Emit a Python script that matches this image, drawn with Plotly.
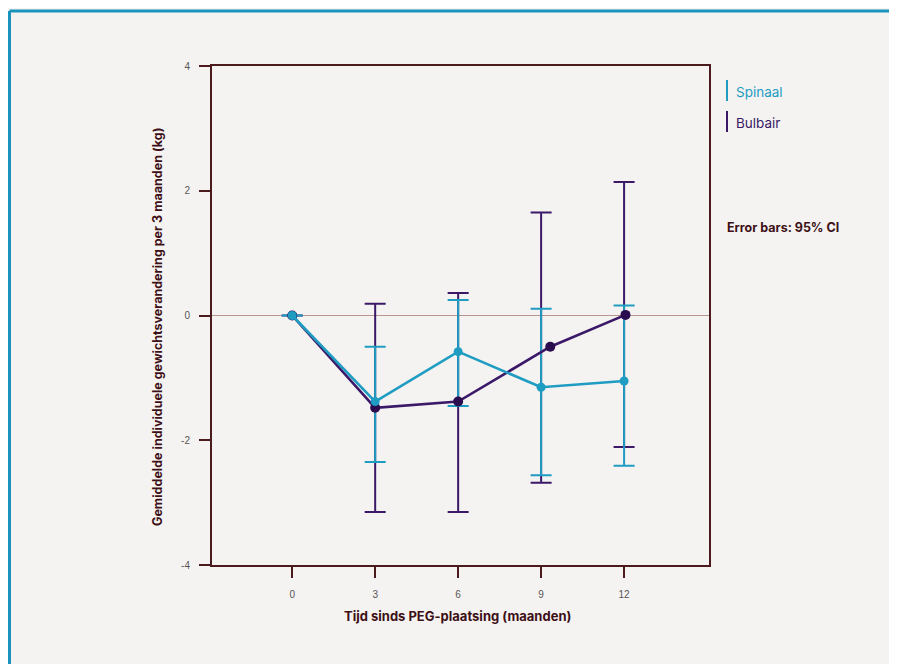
import plotly.graph_objects as go

# ---- data ----
months = [0, 3, 6, 9, 12]
x_ticks = [0, 3, 6, 9, 12]
y_ticks = [-4, -2, 0, 2, 4]

spinaal_x = [0, 3, 6, 9, 12]
spinaal_y = [0, -1.38, -0.58, -1.15, -1.05]
spinaal_hi = [0, -0.50, 0.25, 0.11, 0.16]
spinaal_lo = [0, -2.35, -1.45, -2.56, -2.41]

bulbair_x = [0, 3, 6, 9.33, 12.05]
bulbair_y = [0, -1.48, -1.38, -0.50, 0.01]
bulbair_hi = [0, 0.19, 0.36, 1.65, 2.14]
bulbair_lo = [0, -3.15, -3.15, -2.68, -2.11]

TEAL = "#1e9cc2"
PURPLE = "#3b1868"
PURPLE_DARK = "#2a0c4f"
MAROON = "#4a1a1c"
TITLE = "#3d0f16"
BG = "#f4f3f1"


def ci_trace(x, hi, lo, color):
    centre = [(h + l) / 2 for h, l in zip(hi, lo)]
    half = [(h - l) / 2 for h, l in zip(hi, lo)]
    return go.Scatter(
        x=x, y=centre, mode="markers",
        marker=dict(size=0.1, color="rgba(0,0,0,0)"),
        error_y=dict(type="data", array=half, visible=True,
                     color=color, thickness=2, width=10.5),
        showlegend=False, hoverinfo="skip")


fig = go.Figure()
fig.add_trace(ci_trace(months, bulbair_hi, bulbair_lo, PURPLE))
fig.add_trace(ci_trace(months, spinaal_hi, spinaal_lo, TEAL))
fig.add_trace(go.Scatter(x=bulbair_x, y=bulbair_y, mode="lines+markers", name="Bulbair",
                         line=dict(color=PURPLE, width=2.6),
                         marker=dict(color=PURPLE_DARK, size=10), showlegend=False))
fig.add_trace(go.Scatter(x=spinaal_x, y=spinaal_y, mode="lines+markers", name="Spinaal",
                         line=dict(color=TEAL, width=2.6),
                         marker=dict(color=TEAL, size=9), showlegend=False))

tickfont = dict(family="Liberation Sans, Arial, sans-serif", size=10, color="#5a5555")

fig.update_xaxes(range=[-2.9, 15.07], tickvals=x_ticks, ticktext=[str(v) for v in x_ticks],
                 showgrid=False, zeroline=False, showline=True, mirror=True,
                 linecolor=MAROON, linewidth=2, ticks="outside", ticklen=11,
                 tickcolor=MAROON, tickwidth=1.5, tickfont=tickfont, ticklabelstandoff=8)
fig.update_yaxes(range=[-4, 4], tickvals=y_ticks, ticktext=[str(v) for v in y_ticks],
                 showgrid=False, zeroline=True, zerolinecolor="#b89590", zerolinewidth=1.2,
                 showline=True, mirror=True, linecolor=MAROON, linewidth=2,
                 ticks="outside", ticklen=11, tickcolor=MAROON, tickwidth=1.5,
                 tickfont=tickfont, ticklabelstandoff=7)

# page body adds an 8px offset; compensate so that screen coords match the reference
OFF = 8
W, H = 897 - OFF, 664 - OFF
L, R, T, B = 212 - OFF, 188, 66 - OFF, 99
pw, ph = W - L - R, H - T - B


def px(xs):
    # screen x -> paper
    return (xs - OFF - L) / pw


def py(ys):
    # screen y -> paper
    return (H - B - (ys - OFF)) / ph


shapes = [
    # page frame
    dict(type="line", xref="paper", yref="paper", x0=px(9.5), x1=px(900), y0=py(11), y1=py(11),
         line=dict(color="#1a93bd", width=3)),
    dict(type="line", xref="paper", yref="paper", x0=px(9.5), x1=px(9.5), y0=py(11), y1=py(670),
         line=dict(color="#1a93bd", width=3)),
    # legend bars
    dict(type="line", xref="paper", yref="paper", x0=px(727), x1=px(727), y0=py(80), y1=py(101),
         line=dict(color=TEAL, width=2)),
    dict(type="line", xref="paper", yref="paper", x0=px(727), x1=px(727), y0=py(111), y1=py(132),
         line=dict(color=PURPLE, width=2)),
]

font = "Inter, Roboto, Liberation Sans, sans-serif"
annotations = [
    dict(text="Spinaal", xref="paper", yref="paper", x=px(734), y=py(92), xanchor="left",
         yanchor="middle", showarrow=False, font=dict(family=font, size=13.5, color=TEAL)),
    dict(text="Bulbair", xref="paper", yref="paper", x=px(734), y=py(123), xanchor="left",
         yanchor="middle", showarrow=False, font=dict(family=font, size=13.5, color=PURPLE)),
    dict(text="<b>Error bars: 95% CI</b>", xref="paper", yref="paper", x=px(725), y=py(227),
         xanchor="left", yanchor="middle", showarrow=False,
         font=dict(family=font, size=12.5, color=TITLE)),
    dict(text="<b>Tijd sinds PEG-plaatsing (maanden)</b>", xref="paper", yref="paper",
         x=px(457), y=py(616), xanchor="center", yanchor="middle", showarrow=False,
         font=dict(family=font, size=13, color=TITLE)),
    dict(text="<b>Gemiddelde individuele gewichtsverandering per 3 maanden (kg)</b>",
         xref="paper", yref="paper", x=px(157), y=py(327), xanchor="center", yanchor="middle",
         textangle=-90, showarrow=False, font=dict(family=font, size=12.5, color=TITLE)),
]

fig.update_layout(width=W, height=H, margin=dict(l=L, r=R, t=T, b=B),
                  paper_bgcolor=BG, plot_bgcolor=BG, shapes=shapes,
                  annotations=annotations, showlegend=False)

fig.write_html("out.html")
